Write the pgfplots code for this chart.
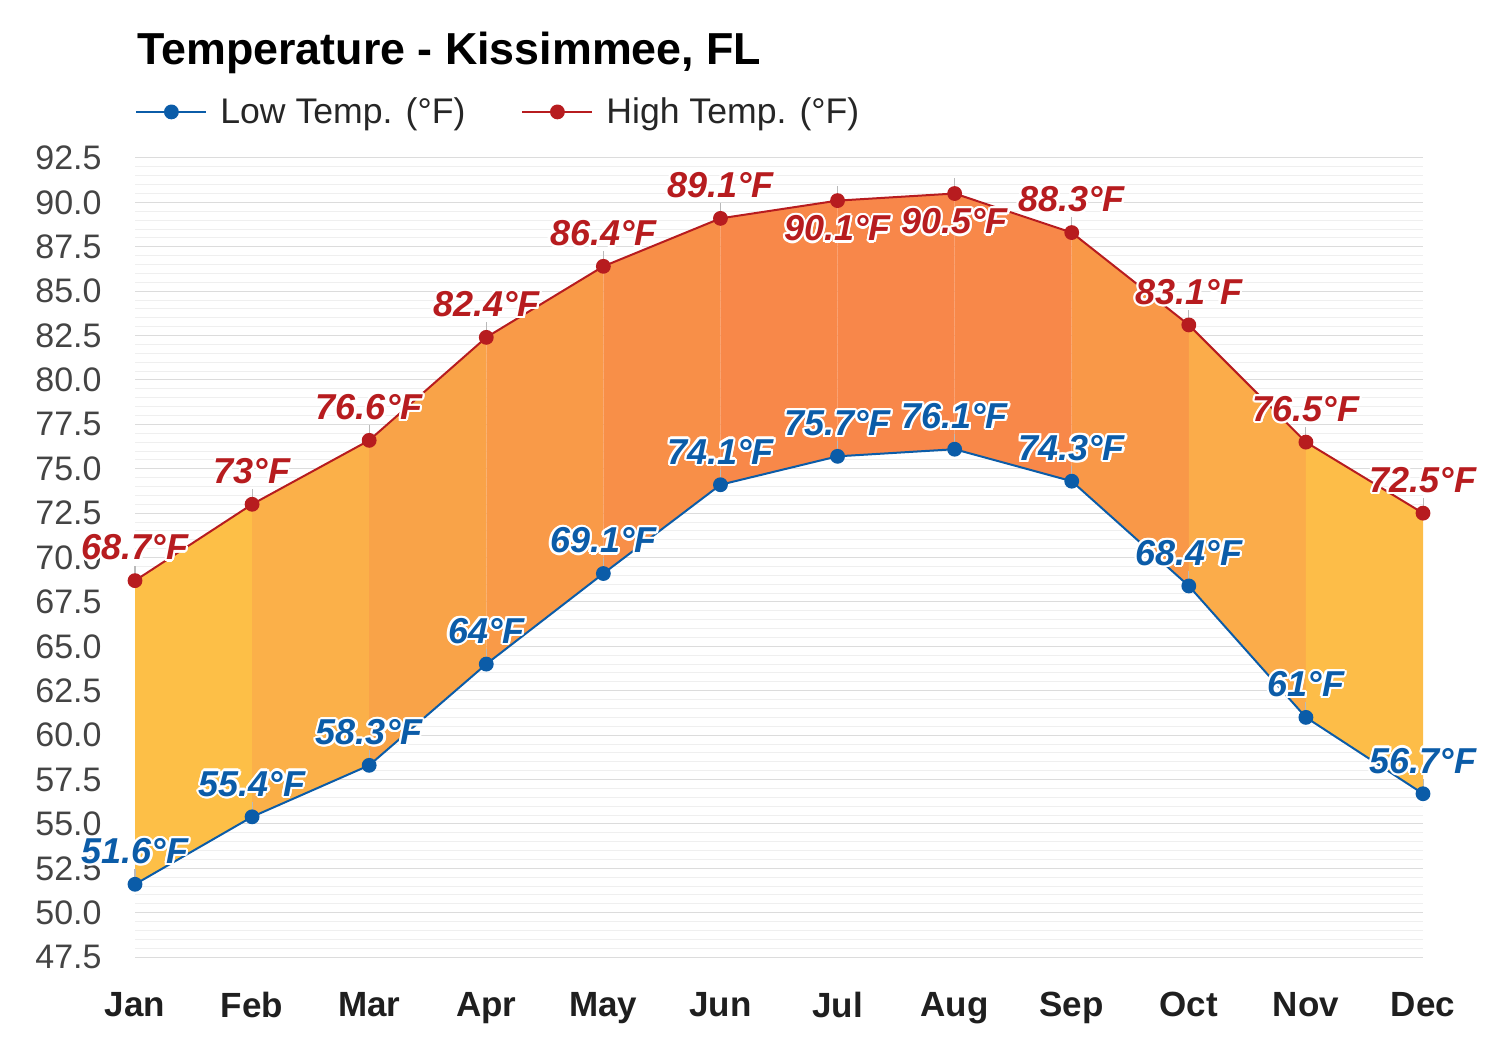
\documentclass[border=0pt]{standalone}
\usepackage{pgfplots}
\pgfplotsset{compat=1.18}
\usepgfplotslibrary{fillbetween}
\usepackage{pgfplotstable}
\usepackage{fontspec}
\setmainfont{Liberation Sans}
\usepackage[copies]{contour}
\contourlength{1.1pt}
\definecolor{lowc}{HTML}{0B5CA8}
\definecolor{highc}{HTML}{B71C1F}
\definecolor{gridmaj}{HTML}{DCDCDC}
\definecolor{gridmin}{HTML}{EFEFEF}
\definecolor{ticktxt}{HTML}{444444}
\definecolor{c1}{HTML}{FDBF47}
\definecolor{c2}{HTML}{FBB049}
\definecolor{c3}{HTML}{F9A348}
\definecolor{c4}{HTML}{F99A48}
\definecolor{c5}{HTML}{F88F48}
\definecolor{c6}{HTML}{F88849}
\definecolor{c7}{HTML}{F8874A}
\definecolor{c8}{HTML}{F88849}
\definecolor{c9}{HTML}{F99848}
\definecolor{c10}{HTML}{FBAC4A}
\definecolor{c11}{HTML}{FDBD48}
\pgfplotstableread{
x low high hdy ldy
0 51.6 68.7 16 16
1 55.4 73 16 16
2 58.3 76.6 16 16
3 64 82.4 16 16
4 69.1 86.4 16 16
5 74.1 89.1 16 16
6 75.7 90.1 -14.5 16
7 76.1 90.5 -14.5 16
8 74.3 88.3 16 16
9 68.4 83.1 16 16
10 61 76.5 16 16
11 56.7 72.5 16 16
}\data
\newcommand{\lblfont}{\fontsize{18pt}{20pt}\selectfont\bfseries\itshape}
\begin{document}
\begin{tikzpicture}
\path (-67.5pt,-42pt) rectangle (682.5pt,483pt);
\begin{axis}[
  at={(0pt,0pt)}, anchor=south west,
  scale only axis, width=644pt, height=404pt,
  xmin=0, xmax=11, ymin=47, ymax=92.5,
  clip=false,
  axis line style={draw=none},
  major tick length=0pt, minor tick length=0pt,
  xtick={0,...,11},
  xticklabels={Jan,Feb,Mar,Apr,May,Jun,Jul,Aug,Sep,Oct,Nov,Dec},
  xticklabel style={font=\fontsize{17.5pt}{20pt}\selectfont\bfseries, text=black!88, inner sep=0pt, anchor=north, yshift=-13pt},
  ytick={47.5,50,52.5,55,57.5,60,62.5,65,67.5,70,72.5,75,77.5,80,82.5,85,87.5,90,92.5},
  minor y tick num=4,
  ymajorgrids, yminorgrids,
  major grid style={color=gridmaj, line width=0.5pt},
  minor grid style={color=gridmin, line width=0.5pt},
  yticklabel style={font=\fontsize{17pt}{20pt}\selectfont, text=ticktxt, inner sep=0pt, anchor=east, xshift=-16.5pt,
    /pgf/number format/.cd, fixed, fixed zerofill, precision=1, assume math mode=true},
  legend style={at={(0,1.057)}, anchor=west, draw=none, fill=none,
    font=\fontsize{17.8pt}{20pt}\selectfont, text=black!85,
    legend columns=2, inner xsep=0pt, inner ysep=0pt,
    /tikz/every odd column/.append style={column sep=4.5pt},
    /tikz/every even column/.append style={column sep=26pt}},
  legend cell align=left,
  legend image code/.code={\draw[mark repeat=2,mark phase=2,#1] plot coordinates {(0pt,0pt) (17.5pt,0pt) (35pt,0pt)};},
]
\addplot[draw=none, name path=H, forget plot] table[x=x,y=high]{\data};
\addplot[draw=none, name path=L, forget plot] table[x=x,y=low]{\data};
\addplot[c1, forget plot] fill between[of=H and L, soft clip={domain=0:1}];
\addplot[c2, forget plot] fill between[of=H and L, soft clip={domain=1:2}];
\addplot[c3, forget plot] fill between[of=H and L, soft clip={domain=2:3}];
\addplot[c4, forget plot] fill between[of=H and L, soft clip={domain=3:4}];
\addplot[c5, forget plot] fill between[of=H and L, soft clip={domain=4:5}];
\addplot[c6, forget plot] fill between[of=H and L, soft clip={domain=5:6}];
\addplot[c7, forget plot] fill between[of=H and L, soft clip={domain=6:7}];
\addplot[c8, forget plot] fill between[of=H and L, soft clip={domain=7:8}];
\addplot[c9, forget plot] fill between[of=H and L, soft clip={domain=8:9}];
\addplot[c10, forget plot] fill between[of=H and L, soft clip={domain=9:10}];
\addplot[c11, forget plot] fill between[of=H and L, soft clip={domain=10:11}];

\addplot[lowc, line width=1pt, mark=*, mark size=3.2pt,
  error bars/.cd, y dir=plus, y fixed=0.85, error mark=none,
  error bar style={color=gray!55, line width=0.5pt}]
  table[x=x,y=low]{\data};
\addlegendentry{Low Temp. (°F)}
\addplot[highc, line width=1pt, mark=*, mark size=3.2pt,
  error bars/.cd, y dir=plus, y fixed=0.85, error mark=none,
  error bar style={color=gray!55, line width=0.5pt}]
  table[x=x,y=high]{\data};
\addlegendentry{High Temp. (°F)}

\addplot[draw=none, forget plot, point meta=explicit symbolic,
  visualization depends on={\thisrow{ldy}\as\dy},
  nodes near coords={\contour{white}{\pgfplotspointmeta°F}},
  nodes near coords style={font=\lblfont, text=lowc, anchor=center, inner sep=0pt, yshift=\dy}]
  table[x=x,y=low,meta=low]{\data};
\addplot[draw=none, forget plot, point meta=explicit symbolic,
  visualization depends on={\thisrow{hdy}\as\dy},
  nodes near coords={\contour{white}{\pgfplotspointmeta°F}},
  nodes near coords style={font=\lblfont, text=highc, anchor=center, inner sep=0pt, yshift=\dy}]
  table[x=x,y=high,meta=high]{\data};

\node[anchor=base west, inner sep=0pt, font=\fontsize{22.4pt}{24pt}\selectfont\bfseries, text=black]
  at (rel axis cs:0.0015,1.1163) {Temperature - Kissimmee, FL};
\end{axis}
\end{tikzpicture}
\end{document}
